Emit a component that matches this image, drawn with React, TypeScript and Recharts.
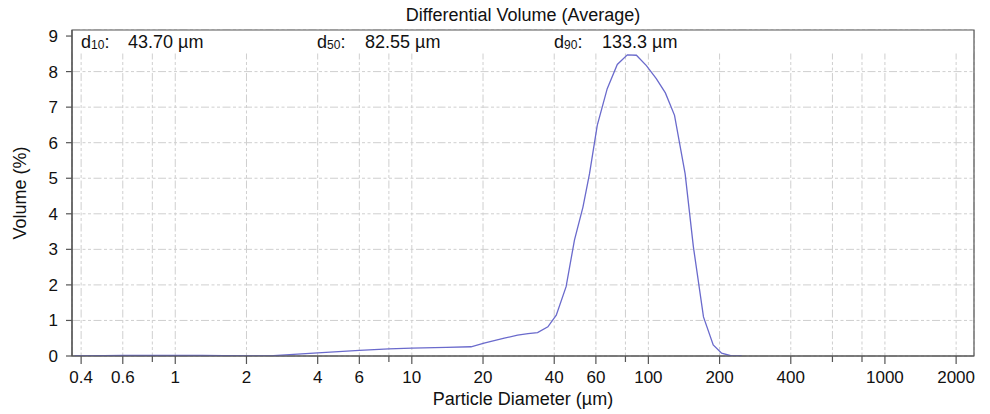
import { CartesianGrid, Line, LineChart, ReferenceArea, XAxis, YAxis } from "recharts";

// particle diameter (µm) and differential volume (%)
const diameters = [
  0.375, 0.4, 0.5, 0.6, 0.8, 1, 1.3, 1.6, 2, 2.6, 4, 6, 8, 10, 14, 17.8, 20.2, 24.6, 28, 31, 34,
  37.6, 40.8, 44.9, 48.7, 52.9, 56.4, 60.8, 67, 73.9, 81.5, 89, 98.1, 108, 118, 129, 143, 155,
  171, 188, 204, 225, 248,
];
const volumes = [
  0.005, 0.005, 0.01, 0.02, 0.02, 0.02, 0.015, 0.01, 0.0, 0.01, 0.09, 0.16, 0.2, 0.22, 0.24, 0.26,
  0.36, 0.5, 0.59, 0.63, 0.66, 0.82, 1.15, 1.95, 3.26, 4.19, 5.13, 6.49, 7.52, 8.2, 8.47, 8.46,
  8.17, 7.8, 7.4, 6.77, 5.13, 3.07, 1.1, 0.31, 0.08, 0.0, 0.0,
];

const xTicks = [0.4, 0.6, 0.8, 1, 2, 4, 6, 8, 10, 20, 40, 60, 80, 100, 200, 400, 600, 800, 1000, 2000];
const xUnlabeled = [0.8, 8, 80, 600, 800];
const yTicks = [0, 1, 2, 3, 4, 5, 6, 7, 8, 9];

const stats = [
  { name: "10", value: "43.70 µm", x: 81, vx: 128 },
  { name: "50", value: "82.55 µm", x: 317, vx: 365 },
  { name: "90", value: "133.3 µm", x: 554, vx: 602 },
];

const X_DOMAIN: [number, number] = [0.366, 2380];
const Y_MAX = 9.17;
const FONT = "'Liberation Sans', Arial, sans-serif";
const AXIS = "#555555";

const data = diameters.map((d, i) => ({ d, v: volumes[i] }));

function XTick({ x, y, payload }: any) {
  const labeled = !xUnlabeled.includes(payload.value);
  return (
    <g>
      <line x1={x} x2={x} y1={y} y2={y + (labeled ? 8 : 6)} stroke={AXIS} strokeWidth={1.2} />
      {labeled && (
        <text x={x} y={y + 27} textAnchor="middle" fill="#111" fontSize={17} fontFamily={FONT}>
          {payload.value}
        </text>
      )}
    </g>
  );
}

// titles and d-values, drawn on a plain svg laid over the chart
function Texts() {
  return (
    <svg
      width={990}
      height={414}
      style={{ position: "absolute", left: 0, top: 0, pointerEvents: "none" }}
    >
      <g fontFamily={FONT} fill="#111">
        <text x={523} y={21} textAnchor="middle" fontSize={18}>
          Differential Volume (Average)
        </text>
        <text x={523} y={405} textAnchor="middle" fontSize={18}>
          Particle Diameter (µm)
        </text>
        <text
          x={20}
          y={193}
          textAnchor="middle"
          dominantBaseline="central"
          fontSize={18}
          transform="rotate(-90 20 193)"
        >
          Volume (%)
        </text>
        {stats.map((s) => (
          <g key={s.name}>
            <text x={s.x} y={48} fontSize={18}>
              d
              <tspan fontSize={12} dy={1}>
                {s.name}
              </tspan>
              <tspan dy={-1}>:</tspan>
            </text>
            <text x={s.vx} y={48} fontSize={18}>
              {s.value}
            </text>
          </g>
        ))}
      </g>
    </svg>
  );
}

export default function App() {
  return (
    <div style={{ position: "absolute", left: 0, top: 0, width: 990, height: 414, background: "#fff" }}>
      <LineChart width={990} height={414} data={data} margin={{ top: 30, right: 16, bottom: 0, left: 0 }}>
        <CartesianGrid stroke="#cfcfcf" strokeDasharray="8 2.5 3 2.5 3 2.5" />
        <XAxis
          dataKey="d"
          type="number"
          scale="log"
          domain={X_DOMAIN}
          allowDataOverflow
          ticks={xTicks}
          interval={0}
          height={58}
          tickSize={0}
          tickMargin={0}
          tickLine={false}
          axisLine={{ stroke: AXIS, strokeWidth: 1.2 }}
          tick={<XTick />}
        />
        <YAxis
          type="number"
          domain={[0, Y_MAX]}
          allowDataOverflow
          ticks={yTicks}
          interval={0}
          width={72}
          tickSize={6}
          tickMargin={8}
          tickLine={{ stroke: AXIS, strokeWidth: 1.2 }}
          axisLine={{ stroke: AXIS, strokeWidth: 1.2 }}
          tick={{ fill: "#111", fontSize: 17, fontFamily: FONT }}
        />
        <ReferenceArea y1={8.51} y2={Y_MAX} fill="#fff" fillOpacity={1} stroke="none" ifOverflow="visible" />
        <ReferenceArea
          x1={X_DOMAIN[0]}
          x2={X_DOMAIN[1]}
          y1={0}
          y2={Y_MAX}
          fill="none"
          stroke={AXIS}
          strokeWidth={1.2}
          ifOverflow="visible"
        />
        <Line
          type="linear"
          dataKey="v"
          stroke="#6a6acc"
          strokeWidth={1.3}
          dot={false}
          isAnimationActive={false}
        />
      </LineChart>
      <Texts />
    </div>
  );
}
